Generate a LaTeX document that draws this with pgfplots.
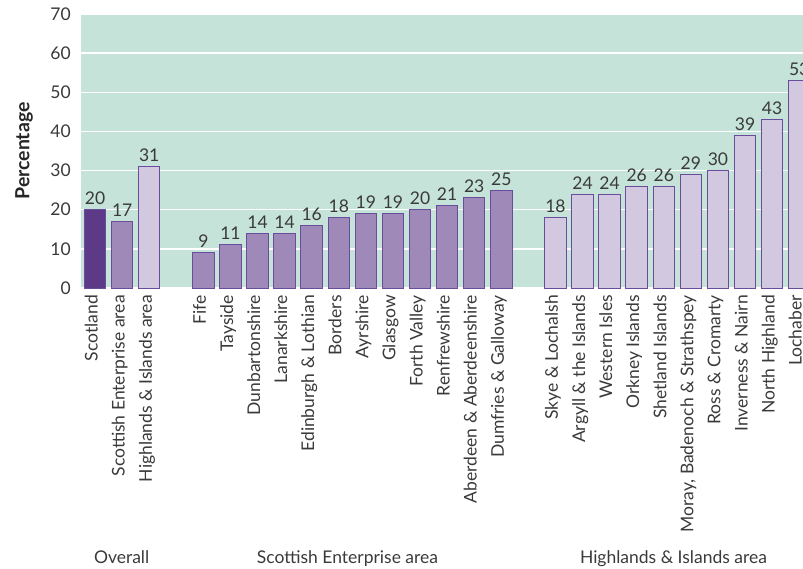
\documentclass[border=0pt]{standalone}
\usepackage{fontspec}
\setmainfont{Lato}
\usepackage{pgfplots}
\pgfplotsset{compat=1.18}
\definecolor{bgc}{HTML}{C5E3D9}
\definecolor{darkp}{HTML}{5C3A88}
\definecolor{medp}{HTML}{9F89B8}
\definecolor{lightp}{HTML}{D2C8E0}
\definecolor{edgep}{HTML}{6A4C9C}
\definecolor{txt}{HTML}{3A3A3A}
\newcommand\lf{\fontsize{17.5bp}{21bp}\selectfont}
\begin{document}
\begin{tikzpicture}
\begin{axis}[
  at={(0,0)}, anchor=south west,
  scale only axis,
  x=27.08bp, y=3.914bp,
  xmin=-0.52, xmax=27, ymin=0, ymax=70,
  clip=false,
  axis background/.style={fill=bgc},
  axis line style={draw=none},
  major tick length=0pt,
  /pgf/number format/assume math mode=true,
  ytick={0,10,...,70},
  ymajorgrids, grid style={white, line width=1.5bp},
  xtick={0,1,2,4,5,6,7,8,9,10,11,12,13,14,15,17,18,19,20,21,22,23,24,25,26},
  xticklabels={Scotland, Scottish Enterprise area, Highlands \& Islands area,
    Fife, Tayside, Dunbartonshire, Lanarkshire, Edinburgh \& Lothian, Borders, Ayrshire, Glasgow, Forth Valley, Renfrewshire, Aberdeen \& Aberdeenshire, Dumfries \& Galloway,
    Skye \& Lochalsh, Argyll \& the Islands, Western Isles, Orkney Islands, Shetland Islands, {Moray, Badenoch \& Strathspey}, Ross \& Cromarty, Inverness \& Nairn, North Highland, Lochaber},
  xticklabel style={font=\lf, text=txt, rotate=90, anchor=mid east, inner sep=0pt},
  xticklabel shift=7bp,
  yticklabel style={font=\lf, text=txt, anchor=east, inner sep=0pt},
  yticklabel shift=10bp,
  ylabel={Percentage},
  ylabel style={font=\fontsize{19.5bp}{23bp}\selectfont\bfseries, text=black!85, at={(axis description cs:-0.0765,0.5)}, anchor=center},
  nodes near coords,
  nodes near coords style={font=\lf, text=txt, inner sep=4.5bp},
  every axis plot/.append style={ybar, bar width=21.5bp, bar shift=0pt, draw=edgep, line width=1bp},
]
\addplot[fill=darkp] coordinates {(0,20)};
\addplot[fill=medp] coordinates {(1,17) (4,9) (5,11) (6,14) (7,14) (8,16) (9,18) (10,19) (11,19) (12,20) (13,21) (14,23) (15,25)};
\addplot[fill=lightp] coordinates {(2,31) (17,18) (18,24) (19,24) (20,26) (21,26) (22,29) (23,30) (24,39) (25,43) (26,53)};
\node[font=\lf, text=txt, anchor=base] at (axis cs:0.98,0) [yshift=-275bp] {Overall};
\node[font=\lf, text=txt, anchor=base] at (axis cs:9.32,0) [yshift=-275bp] {Scottish Enterprise area};
\node[font=\lf, text=txt, anchor=base] at (axis cs:21.36,0) [yshift=-275bp] {Highlands \& Islands area};
\end{axis}
\pgfresetboundingbox
\path[use as bounding box] (-81bp,-281bp) rectangle (722bp,288bp);
\end{tikzpicture}
\end{document}
